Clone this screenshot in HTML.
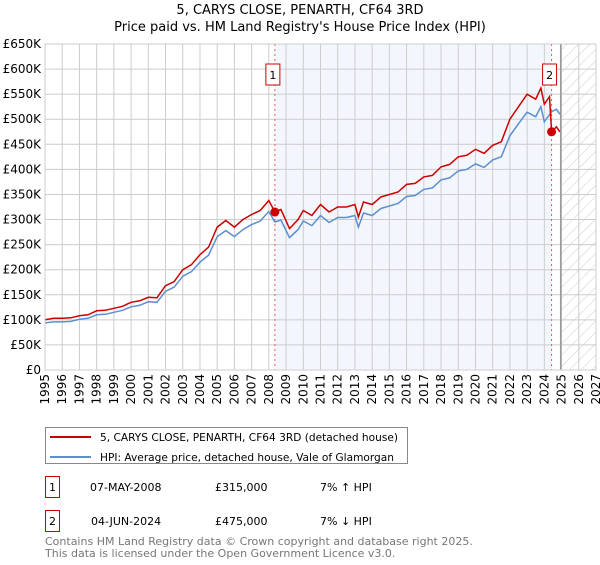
<!DOCTYPE html>
<html><head><meta charset="utf-8"><style>
body{margin:0;background:#fff;font-family:"Liberation Sans","DejaVu Sans",sans-serif;}
svg text{font-family:"DejaVu Sans","Liberation Sans",sans-serif;}
</style></head><body>
<svg id="c" width="600" height="560" xmlns="http://www.w3.org/2000/svg">
<defs><pattern id="hatch" width="8" height="8" patternUnits="userSpaceOnUse" patternTransform="rotate(45)"><line x1="0" y1="0" x2="0" y2="8" stroke="#ccc" stroke-width="1"/></pattern></defs>
<text x="300" y="14" text-anchor="middle" font-size="13">5, CARYS CLOSE, PENARTH, CF64 3RD</text>
<text x="300" y="31" text-anchor="middle" font-size="13">Price paid vs. HM Land Registry's House Price Index (HPI)</text>
<g id="plot"></g>
<g>
<rect x="45.5" y="427.5" width="362" height="36" fill="#fff" stroke="#888"/>
<line x1="50" y1="437" x2="91" y2="437" stroke="#cc0000" stroke-width="2"/>
<text x="100" y="441" font-size="10.6">5, CARYS CLOSE, PENARTH, CF64 3RD (detached house)</text>
<line x1="50" y1="457" x2="91" y2="457" stroke="#5b8fd0" stroke-width="2"/>
<text x="100" y="461" font-size="10.6">HPI: Average price, detached house, Vale of Glamorgan</text>
</g>
<g font-size="11">
<rect x="45.5" y="476.5" width="14" height="21" fill="#fff" stroke="#cc0000"/><text x="52.5" y="491" text-anchor="middle">1</text>
<text x="90" y="491">07-MAY-2008</text><text x="215" y="491">£315,000</text><text x="320" y="491">7% ↑ HPI</text>
<rect x="45.5" y="510.5" width="14" height="21" fill="#fff" stroke="#cc0000"/><text x="52.5" y="525" text-anchor="middle">2</text>
<text x="91" y="525">04-JUN-2024</text><text x="215" y="525">£475,000</text><text x="320" y="525">7% ↓ HPI</text>
</g>
<text x="45" y="545" font-size="11" fill="#777">Contains HM Land Registry data © Crown copyright and database right 2025.</text>
<text x="45" y="557" font-size="11" fill="#777">This data is licensed under the Open Government Licence v3.0.</text>
</svg>
<script>
const dates=[1995,1995.5,1996,1996.5,1997,1997.5,1998,1998.5,1999,1999.5,2000,2000.5,2001,2001.5,2002,2002.5,2003,2003.5,2004,2004.5,2005,2005.5,2006,2006.5,2007,2007.5,2008,2008.35,2008.7,2009.2,2009.7,2010,2010.5,2011,2011.5,2012,2012.5,2013,2013.2,2013.5,2014,2014.5,2015,2015.5,2016,2016.5,2017,2017.5,2018,2018.5,2019,2019.5,2020,2020.5,2021,2021.5,2022,2022.5,2023,2023.5,2023.8,2024,2024.3,2024.42,2024.7,2024.9];
const priceK=[100,103,103,104,108,110,118,119,123,127,135,138,145,144,168,176,200,210,230,245,285,298,285,300,310,318,338,315,320,282,300,318,308,330,315,325,325,330,305,335,330,345,350,355,370,372,385,388,405,410,425,428,440,432,448,455,500,525,550,540,562,530,545,475,485,475];
const hpiK=[94,96,96,97,101,103,110,111,115,119,126,129,136,135,157,165,187,196,215,229,266,278,266,280,290,297,316,295,299,264,280,297,288,308,294,304,304,308,285,313,308,322,327,332,346,348,360,363,379,383,397,400,411,404,419,425,467,491,514,505,525,495,509,515,520,510];
const sales=[{n:'1',d:2008.35,v:315},{n:'2',d:2024.42,v:475}];
const yTicks=[0,50,100,150,200,250,300,350,400,450,500,550,600,650];
const xTicks=[1995,1996,1997,1998,1999,2000,2001,2002,2003,2004,2005,2006,2007,2008,2009,2010,2011,2012,2013,2014,2015,2016,2017,2018,2019,2020,2021,2022,2023,2024,2025,2026,2027];
const L=45,R=596,T=44,B=370;
const x=d=>L+(d-1995)/(2027-1995)*(R-L);
const y=v=>B-v/650*(B-T);
const NS='http://www.w3.org/2000/svg';
const g=document.getElementById('plot');
function mk(t,a,p){const e=document.createElementNS(NS,t);for(const k in a)e.setAttribute(k,a[k]);(p||g).appendChild(e);return e;}
let e;
e=mk('rect',{x:x(sales[0].d),y:T,width:x(sales[1].d)-x(sales[0].d),height:B-T,fill:'#eef3fc',opacity:0.7});


e=mk('rect',{x:x(2024.95),y:T,width:R-x(2024.95),height:B-T,fill:'url(#hatch)'});


yTicks.forEach(v=>{
 e=mk('line',{x1:L,x2:R,y1:y(v),y2:y(v),stroke:'#ccc'});
 
 
 e=mk('text',{x:L-4,y:y(v)+4,'text-anchor':'end','font-size':12});
 e.textContent=v===0?'£0':'£'+v+'K';
 
 
});
xTicks.forEach(d=>{
 e=mk('line',{x1:x(d),x2:x(d),y1:T,y2:B,stroke:'#ccc'});
 
 
 e=mk('text',{x:x(d)+4,y:B+4,'text-anchor':'end','font-size':12,transform:`rotate(-90 ${x(d)+4} ${B+4})`});
 e.textContent=d;
 
 
});
e=mk('line',{x1:x(2024.95),x2:x(2024.95),y1:T,y2:B,stroke:'#999','stroke-width':1.5});


sales.forEach(s=>{
 e=mk('line',{x1:x(s.d),x2:x(s.d),y1:T,y2:B,stroke:'#e55','stroke-dasharray':'2,3'});
 
 
 e=mk('rect',{x:x(s.d)-9,y:64,width:14,height:21,fill:'#fff',stroke:'#cc0000'});
 
 
 e=mk('text',{x:x(s.d)-2,y:79,'text-anchor':'middle','font-size':11});
 e.textContent=s.n;
 
 
});
const pts=a=>a.map((v,i)=>x(dates[i]).toFixed(1)+','+y(v).toFixed(1)).join(' ');
e=mk('polyline',{points:pts(hpiK),fill:'none',stroke:'#5b8fd0','stroke-width':1.5});


e=mk('polyline',{points:pts(priceK),fill:'none',stroke:'#cc0000','stroke-width':1.5});


sales.forEach(s=>{
 e=mk('circle',{cx:x(s.d),cy:y(s.v),r:4.5,fill:'#cc0000'});
 
 
});
e=mk('rect',{x:L,y:T,width:R-L,height:B-T,fill:'none',stroke:'#ccc'});


</script>
</body></html>
